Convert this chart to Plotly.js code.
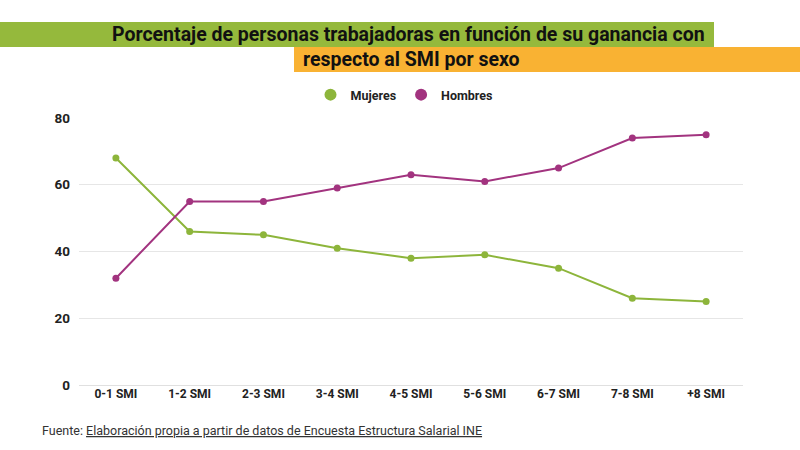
<!DOCTYPE html>
<html>
<head>
<meta charset="utf-8">
<script src="https://cdn.plot.ly/plotly-3.0.1.min.js"></script>
<style>
  html, body { margin: 0; padding: 0; background: #fff; }
  #plot { width: 800px; height: 450px; }
</style>
</head>
<body>
<div id="plot"></div>
<script>
const categories = ["0-1 SMI", "1-2 SMI", "2-3 SMI", "3-4 SMI", "4-5 SMI", "5-6 SMI", "6-7 SMI", "7-8 SMI", "+8 SMI"];
const mujeres = [68, 46, 45, 41, 38, 39, 35, 26, 25];
const hombres = [32, 55, 55, 59, 63, 61, 65, 74, 75];
const yTicks = [0, 20, 40, 60, 80];

const GREEN = "#8db53b";
const PURPLE = "#a2337f";

// plot area in pixels, used to place the title bars
const L = 79, R = 743, T = 118, B = 385;
const px = x => (x - L) / (R - L);
const py = y => (B - y) / (B - T);

function series(name, ys, color) {
    return {
        x: categories,
        y: ys,
        mode: "lines+markers",
        name: name,
        showlegend: false,
        line: { color: color, width: 2 },
        marker: { size: 7, color: color }
    };
}

// legend shows only a dot, like the original
function legendDot(name, color) {
    return {
        x: [null], y: [null],
        mode: "markers",
        name: name,
        marker: { size: 12, color: color }
    };
}

const data = [
    series("Mujeres", mujeres, GREEN),
    series("Hombres", hombres, PURPLE),
    legendDot("Mujeres", GREEN),
    legendDot("Hombres", PURPLE)
];

const layout = {
    width: 800,
    height: 450,
    paper_bgcolor: "#ffffff",
    plot_bgcolor: "#ffffff",
    margin: { l: L, r: 800 - R, t: T, b: 450 - B },
    font: { family: "Roboto, sans-serif", color: "#222" },
    showlegend: true,
    legend: {
        orientation: "h",
        x: px(404), xanchor: "center",
        y: py(95), yanchor: "middle",
        font: { size: 12.5, color: "#222", family: "Roboto, sans-serif", weight: "bold" },
        itemwidth: 30
    },
    xaxis: {
        type: "category",
        range: [-0.5, 8.5],
        showgrid: false,
        zeroline: false,
        showline: false,
        ticks: "",
        tickfont: { size: 12, color: "#222", family: "Roboto, sans-serif", weight: "bold" },
        fixedrange: true
    },
    yaxis: {
        range: [0, 80],
        tickvals: yTicks,
        showgrid: true,
        gridcolor: "#e6e6e6",
        gridwidth: 1,
        zeroline: true,
        zerolinecolor: "#e0e0e0",
        showline: false,
        ticks: "",
        ticklabelstandoff: 8,
        tickfont: { size: 13.5, color: "#222", family: "Roboto, sans-serif", weight: "bold" },
        fixedrange: true
    },
    shapes: [
        {
            type: "rect", xref: "paper", yref: "paper", layer: "below",
            x0: px(0), x1: px(714), y0: py(47), y1: py(22),
            fillcolor: "#95b93c", line: { width: 0 }
        },
        {
            type: "rect", xref: "paper", yref: "paper", layer: "below",
            x0: px(294), x1: px(800), y0: py(72), y1: py(47),
            fillcolor: "#f9b233", line: { width: 0 }
        }
    ],
    annotations: [
        {
            xref: "paper", yref: "paper",
            x: px(707), y: py(35), xanchor: "right", yanchor: "middle",
            text: "Porcentaje de personas trabajadoras en función de su ganancia con",
            showarrow: false,
            font: { size: 19.5, color: "#111", family: "Roboto, sans-serif", weight: "bold" }
        },
        {
            xref: "paper", yref: "paper",
            x: px(301), y: py(60), xanchor: "left", yanchor: "middle",
            text: "respecto al SMI por sexo",
            showarrow: false,
            font: { size: 19.5, color: "#111", family: "Roboto, sans-serif", weight: "bold" }
        },
        {
            xref: "paper", yref: "paper",
            x: px(40), y: py(430), xanchor: "left", yanchor: "middle",
            text: "Fuente: <u>Elaboración propia a partir de datos de Encuesta Estructura Salarial INE</u>",
            showarrow: false,
            font: { size: 12.5, color: "#333", family: "Roboto, sans-serif" }
        }
    ]
};

Plotly.newPlot("plot", data, layout, { displayModeBar: false, staticPlot: true });
</script>
</body>
</html>
